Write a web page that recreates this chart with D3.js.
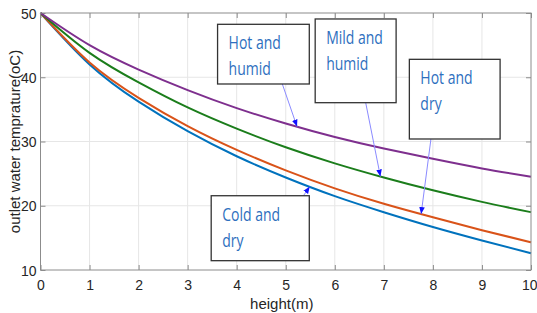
<!DOCTYPE html>
<html>
<head>
<meta charset="utf-8">
<script src="https://cdn.jsdelivr.net/npm/d3@7"></script>
<style>
body { margin: 0; background: #fff; }
svg { display: block; }
</style>
</head>
<body>
<div id="chart"></div>
<script>
// data
var heights   = [0, 1, 2, 3, 4, 5, 6, 7, 8, 9, 10];
var hotHumid  = [50, 45.0, 41.2, 38.0, 35.2, 32.8, 30.7, 28.9, 27.3, 25.8, 24.5];
var mildHumid = [50, 43.8, 39.2, 35.3, 32.0, 29.1, 26.6, 24.4, 22.4, 20.6, 19.0];
var hotDry    = [50, 42.3, 36.8, 32.4, 28.7, 25.5, 22.7, 20.3, 18.2, 16.2, 14.3];
var coldDry   = [50, 42.0, 36.2, 31.6, 27.7, 24.4, 21.5, 19.0, 16.7, 14.6, 12.6];

var xTicks = [0, 1, 2, 3, 4, 5, 6, 7, 8, 9, 10];
var yTicks = [10, 20, 30, 40, 50];

var seriesNames  = ["Cold and dry", "Hot and dry", "Mild and humid", "Hot and humid"];
var seriesValues = [coldDry, hotDry, mildHumid, hotHumid];
var seriesColors = ["#0072bd", "#d95319", "#1b7d1b", "#7e2f8e"];

// text boxes: [x0, x1, yTop, yBottom] in data units, arrow start x on box edge, arrow tip x on curve
var noteLines = [["Hot and", "humid"], ["Mild and", "humid"], ["Hot and", "dry"], ["Cold and", "dry"]];
var noteBoxes = [[3.61, 5.48, 48.24, 38.95], [5.60, 7.25, 49.07, 36.04], [7.52, 9.37, 42.79, 30.39], [3.48, 5.48, 21.56, 11.45]];
var noteFrom  = [4.93, 6.63, 7.96, 5.36];
var noteTip   = [5.23, 6.93, 7.76, 5.49];
var noteSeries = [3, 2, 1, 0];

var width = 537, height = 313;
var margin = {top: 13, right: 6, bottom: 43, left: 40.5};
var w = width - margin.left - margin.right,
    h = height - margin.top - margin.bottom;

var svg = d3.select("#chart").append("svg")
  .attr("width", width)
  .attr("height", height);

var g = svg.append("g")
  .attr("transform", "translate(" + margin.left + "," + margin.top + ")");

var x = d3.scaleLinear().domain([0, 10]).range([0, w]);
var y = d3.scaleLinear().domain([10, 50]).range([h, 0]);

// grid
g.append("g").selectAll("line")
  .data(xTicks.slice(1, -1))
  .enter().append("line")
  .attr("x1", d => x(d)).attr("x2", d => x(d))
  .attr("y1", 0).attr("y2", h)
  .attr("stroke", "#e6e6e6");
g.append("g").selectAll("line")
  .data(yTicks.slice(1, -1))
  .enter().append("line")
  .attr("x1", 0).attr("x2", w)
  .attr("y1", d => y(d)).attr("y2", d => y(d))
  .attr("stroke", "#e6e6e6");

// axes, ticks inside like matlab
var fontAxis = "'Liberation Sans', Arial, sans-serif";
var xAxis = g.append("g")
  .attr("transform", "translate(0," + h + ")")
  .call(d3.axisBottom(x).tickValues(xTicks).tickSizeInner(-5).tickSizeOuter(0).tickPadding(0));
var yAxis = g.append("g")
  .call(d3.axisLeft(y).tickValues(yTicks).tickSizeInner(-5).tickSizeOuter(0).tickPadding(4));
g.append("g")
  .call(d3.axisTop(x).tickValues(xTicks).tickSizeInner(-5).tickSizeOuter(0).tickFormat(""));
g.append("g")
  .attr("transform", "translate(" + w + ",0)")
  .call(d3.axisRight(y).tickValues(yTicks).tickSizeInner(-5).tickSizeOuter(0).tickFormat(""));

g.selectAll(".domain").remove();
g.selectAll(".tick line").attr("stroke", "#8c8c8c");
xAxis.selectAll("text")
  .attr("y", 20).attr("dy", 0)
  .attr("font-size", 14).attr("font-family", fontAxis).attr("fill", "#262626");
// last label sits at the picture's edge, keep it inside
xAxis.selectAll("text").filter(d => d == 10)
  .attr("text-anchor", "end").attr("x", 6);
yAxis.selectAll("text")
  .attr("dy", "0.36em")
  .attr("font-size", 14).attr("font-family", fontAxis).attr("fill", "#262626");

// series
var line = d3.line()
  .x((d, i) => x(heights[i]))
  .y(d => y(d))
  .curve(d3.curveNatural);

g.append("g").selectAll("path")
  .data(seriesValues)
  .enter().append("path")
  .attr("d", line)
  .attr("fill", "none")
  .attr("stroke", (d, i) => seriesColors[i])
  .attr("stroke-width", 2);

// frame
g.append("rect")
  .attr("width", w).attr("height", h)
  .attr("fill", "none")
  .attr("stroke", "#8c8c8c");

// axis labels
svg.append("text")
  .attr("x", margin.left + w / 2 - 4)
  .attr("y", 309)
  .attr("text-anchor", "middle")
  .attr("font-size", 15).attr("font-family", fontAxis).attr("fill", "#262626")
  .text("height(m)");
svg.append("text")
  .attr("transform", "translate(20," + (margin.top + h / 2) + ") rotate(-90)")
  .attr("text-anchor", "middle")
  .attr("font-size", 15).attr("font-family", fontAxis).attr("fill", "#262626")
  .text("outlet water temprature(oC)");

// annotations
svg.append("defs").append("marker")
  .attr("id", "head")
  .attr("viewBox", "0 0 10 10")
  .attr("refX", 10).attr("refY", 5)
  .attr("markerWidth", 7).attr("markerHeight", 7)
  .attr("markerUnits", "userSpaceOnUse")
  .attr("orient", "auto")
  .append("path")
  .attr("d", "M0,1 L10,5 L0,9 Z")
  .attr("fill", "#1010ff");

function valueAt(vals, hx) {
  return d3.scaleLinear().domain(heights).range(vals)(hx);
}

var notes = g.append("g").selectAll("g")
  .data(noteLines)
  .enter().append("g");

notes.append("line")
  .attr("x1", (d, i) => x(noteFrom[i]))
  .attr("y1", (d, i) => i == 3 ? y(noteBoxes[i][2]) : y(noteBoxes[i][3]))
  .attr("x2", (d, i) => x(noteTip[i]))
  .attr("y2", (d, i) => y(valueAt(seriesValues[noteSeries[i]], noteTip[i])))
  .attr("stroke", "#8a8aff")
  .attr("stroke-width", 1)
  .attr("marker-end", "url(#head)");

notes.append("rect")
  .attr("x", (d, i) => x(noteBoxes[i][0]))
  .attr("y", (d, i) => y(noteBoxes[i][2]))
  .attr("width", (d, i) => x(noteBoxes[i][1]) - x(noteBoxes[i][0]))
  .attr("height", (d, i) => y(noteBoxes[i][3]) - y(noteBoxes[i][2]))
  .attr("fill", "#fff")
  .attr("stroke", "#333")
  .attr("stroke-width", 1.3);

notes.each(function(d, i) {
  var box = noteBoxes[i];
  var tx = x(box[0]) + 11;
  var ty = y(box[2]) + 25;
  d.forEach(function(txt, k) {
    d3.select(this).append("text")
      .attr("transform", "translate(" + tx + "," + (ty + k * 26) + ") scale(1,1.25)")
      .attr("font-size", 14)
      .attr("font-family", "'Open Sans', sans-serif")
      .attr("fill", "#2e6fbe")
      .text(txt);
  }, this);
});
</script>
</body>
</html>
